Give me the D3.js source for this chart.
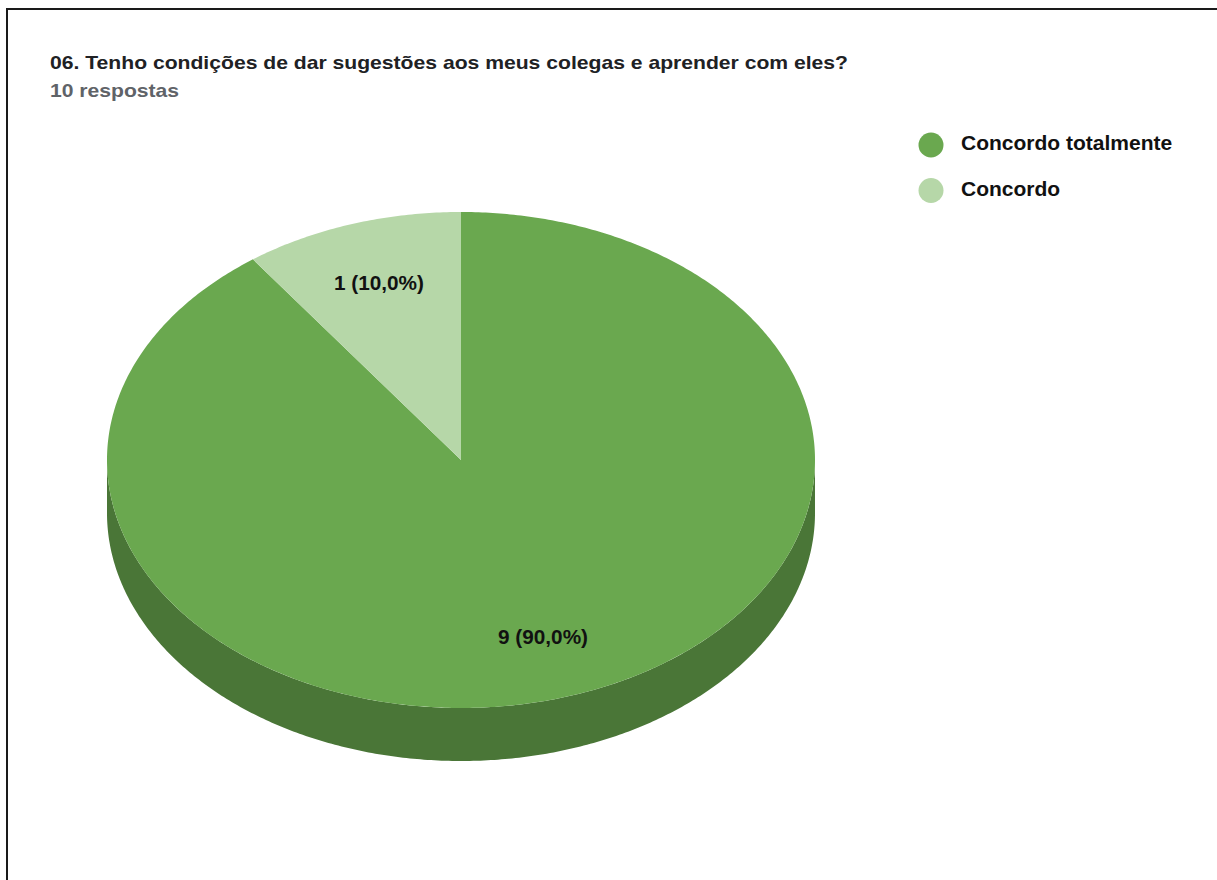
<!DOCTYPE html>
<html>
<head>
<meta charset="utf-8">
<script src="https://cdn.jsdelivr.net/npm/d3@7"></script>
<style>
  html, body { margin: 0; padding: 0; background: #fff; }
  svg { display: block; }
  text { font-family: "Liberation Sans", Arial, sans-serif; }
</style>
</head>
<body>
<svg id="chart" width="1217" height="880"></svg>
<script>
// Survey answers
const categories = ["Concordo totalmente", "Concordo"];
const counts = [9, 1];
const colors = ["#6aa84f", "#b6d7a8"];
const title = "06. Tenho condições de dar sugestões aos meus colegas e aprender com eles?";
const subtitle = "10 respostas";

const svg = d3.select("#chart");
const W = 1217, H = 880;

// Frame
svg.append("rect")
  .attr("x", 7).attr("y", 9)
  .attr("width", W + 20).attr("height", H + 20)
  .attr("fill", "#fff")
  .attr("stroke", "#1a1a1a").attr("stroke-width", 2);

// Header (slightly wide face: stretch to the form's header width)
svg.append("text")
  .attr("x", 50).attr("y", 69)
  .attr("font-size", 19).attr("font-weight", "bold").attr("fill", "#202124")
  .attr("textLength", 798).attr("lengthAdjust", "spacingAndGlyphs")
  .text(title);
svg.append("text")
  .attr("x", 50).attr("y", 97)
  .attr("font-size", 18.5).attr("font-weight", "bold").attr("fill", "#5f6368")
  .attr("textLength", 129).attr("lengthAdjust", "spacingAndGlyphs")
  .text(subtitle);

// 3D pie geometry
const cx = 461, cy = 460, rx = 354, ry = 248, depth = 53;
const total = d3.sum(counts);
const pie = d3.pie().sort(null).startAngle(0).endAngle(2 * Math.PI);
const arcs = pie(counts);

// angle measured clockwise from 12 o'clock
const px = (a, k = 1) => cx + k * rx * Math.sin(a);
const py = (a, k = 1, dy = 0) => cy - k * ry * Math.cos(a) + dy;

function arcPoints(a0, a1, dy) {
  const n = Math.max(2, Math.ceil(Math.abs(a1 - a0) / 0.01));
  return d3.range(n + 1).map(i => {
    const a = a0 + (a1 - a0) * i / n;
    return [px(a), py(a, 1, dy)];
  });
}

const line = d3.line();
const g = svg.append("g");

// Side walls: visible front half (angles between 90° and 270°)
arcs.forEach((d, i) => {
  const a0 = Math.max(d.startAngle, Math.PI / 2);
  const a1 = Math.min(d.endAngle, 3 * Math.PI / 2);
  if (a1 <= a0) return;
  const top = arcPoints(a0, a1, 0);
  const bottom = arcPoints(a1, a0, depth);
  g.append("path")
    .attr("d", line(top.concat(bottom)) + "Z")
    .attr("fill", d3.color(colors[i]).darker(1).formatHex());
});

// Top faces
arcs.forEach((d, i) => {
  const pts = [[cx, cy]].concat(arcPoints(d.startAngle, d.endAngle, 0));
  g.append("path")
    .attr("d", line(pts) + "Z")
    .attr("fill", colors[i]);
});

// Value labels
const fmt = v => v.toFixed(1).replace(".", ",");
arcs.forEach((d, i) => {
  const mid = (d.startAngle + d.endAngle) / 2;
  const label = `${counts[i]} (${fmt(counts[i] / total * 100)}%)`;
  g.append("text")
    .attr("x", px(mid, 0.75) - 45)
    .attr("y", py(mid, 0.75))
    .attr("dy", "0.35em")
    .attr("font-size", 20).attr("font-weight", "bold").attr("fill", "#111")
    .attr("textLength", 90).attr("lengthAdjust", "spacingAndGlyphs")
    .text(label);
});

// Legend
const legend = svg.append("g");
categories.forEach((c, i) => {
  const y = 145 + i * 45.5;
  legend.append("circle")
    .attr("cx", 931).attr("cy", y).attr("r", 12.5)
    .attr("fill", colors[i]);
  legend.append("text")
    .attr("x", 961).attr("y", y + 5)
    .attr("font-size", 21).attr("font-weight", "bold").attr("fill", "#111")
    .text(c);
});
</script>
</body>
</html>
